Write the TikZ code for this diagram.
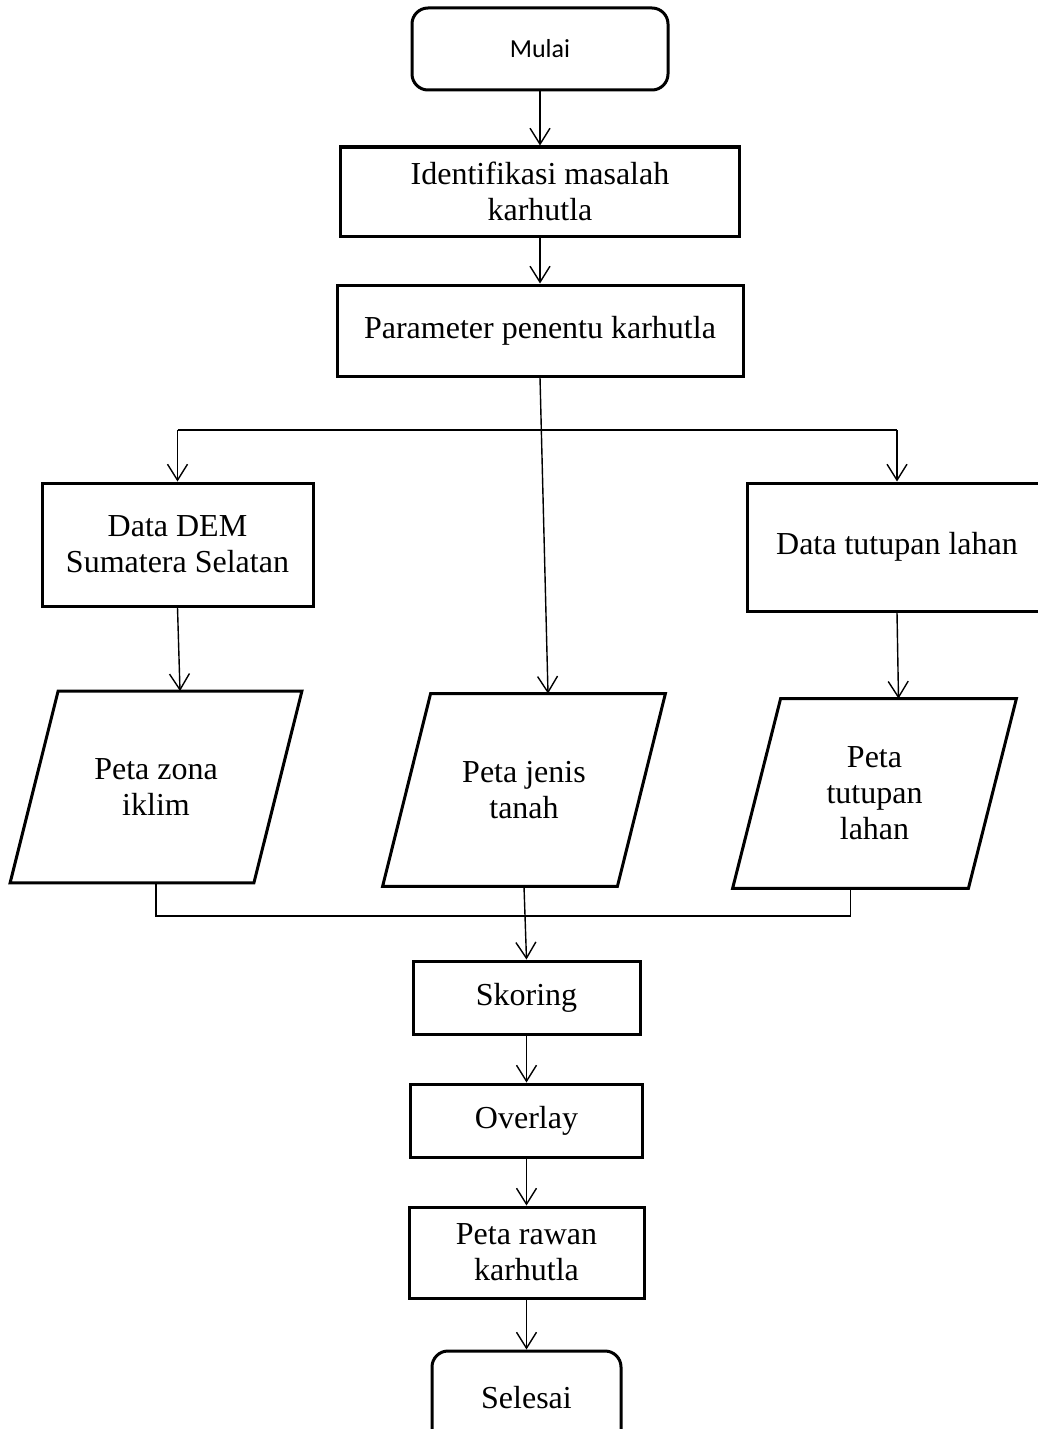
\documentclass[tikz,border=0pt]{standalone}
\usepackage{fontspec}
\setmainfont{Liberation Serif}
\newfontfamily\mulaifont{Carlito}
\usetikzlibrary{positioning,arrows.meta}

\tikzset{
  proc/.style={draw, rectangle, line width=1.5pt, align=center, inner sep=2pt,
    font=\fontsize{16}{18}\selectfont},
  term/.style={proc, rounded corners=8pt},
  datamap/.style={rectangle, align=center, inner sep=2pt,
    font=\fontsize{16}{18}\selectfont},
  mapline/.style={line width=1.5pt},
  link/.style={line width=0.7pt},
  flow/.style={link, -{Straight Barb[length=8pt,width=10pt]}}
}
% slanted outline round a datamap node
\newcommand\mapshape[1]{%
  \draw[mapline] ([xshift=12pt]#1.north west) -- ([xshift=12pt]#1.north east)
    -- ([xshift=-12pt]#1.south east) -- ([xshift=-12pt]#1.south west) -- cycle;}

\begin{document}
\begin{tikzpicture}[x=0.5pt, y=-0.5pt]
	  \useasboundingbox (0,0) rectangle (1038,1429);

	  \node[term, minimum width=128pt, minimum height=41pt, font=\mulaifont\fontsize{13}{15}\selectfont] (mulai) at (540,49) {Mulai} ; %
	  \node[proc, below=27pt of mulai, minimum width=199.5pt, minimum height=44.5pt] (ident) {Identifikasi masalah\\karhutla};
	  \node[proc, below=23pt of ident, minimum width=203pt, minimum height=45.5pt] (param) {Parameter penentu karhutla};

	  \node[proc, minimum width=135.5pt, minimum height=61.5pt] (dem) at (177.5,544.5) {Data DEM\\Sumatera Selatan};
	  \node[proc, minimum width=150pt, minimum height=64pt] (tutup) at (897,547) {Data tutupan lahan};

	  \node[datamap, minimum width=121.5pt, minimum height=95.5pt] (zona) at (156,787) {Peta zona\\iklim};
	  \node[datamap, minimum width=117pt, minimum height=96pt] (jenis) at (524,790) {Peta jenis\\tanah};
	  \node[datamap, minimum width=117.5pt, minimum height=94.5pt] (ptutup) at (874.5,793.5) {Peta\\tutupan\\lahan};
	  \mapshape{zona}
	  \mapshape{jenis}
	  \mapshape{ptutup}

	  \node[proc, minimum width=113.5pt, minimum height=36.5pt] (skor) at (526.5,997.5) {Skoring};
	  \node[proc, below=23.5pt of skor, minimum width=116pt, minimum height=36.5pt] (overlay) {Overlay};
	  \node[proc, below=23.5pt of overlay, minimum width=117.5pt, minimum height=45.5pt] (rawan) {Peta rawan\\karhutla};
	  \node[term, below=25pt of rawan, minimum width=94.5pt, minimum height=47pt] (selesai) {Selesai};

	  \coordinate (split) at (545,430);
	  \coordinate (merge) at (524,916);

	  \draw[flow] (mulai.south) -- (ident.north) ; %
	  \draw[flow] (ident) -- (param);
	  \draw[flow] (param.south) -- ([xshift=12pt]jenis.north);
	  \draw[link] (dem.north |- split) -- (tutup.north |- split);
	  \draw[flow] (dem.north |- split) -- (dem.north);
	  \draw[flow] (tutup.north |- split) -- (tutup.north);
	  \draw[flow] (dem.south) -- ([xshift=12pt]zona.north);
	  \draw[flow] (tutup.south) -- ([xshift=12pt]ptutup.north);

	  \draw[link] (zona.south) -- (zona.south |- merge) -- ([xshift=-12pt]ptutup.south |- merge) -- ([xshift=-12pt]ptutup.south);
	  \draw[flow] (jenis.south) -- (skor.north);
	  \draw[flow] (skor) -- (overlay);
	  \draw[flow] (overlay) -- (rawan);
	  \draw[flow] (rawan) -- (selesai);

	\end{tikzpicture}
\end{document}
